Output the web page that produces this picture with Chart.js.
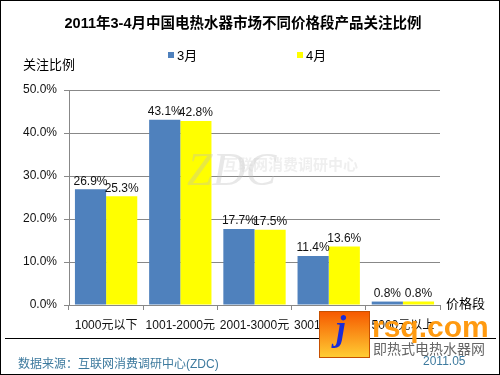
<!DOCTYPE html>
<html>
<head>
<meta charset="utf-8">
<script src="https://cdn.jsdelivr.net/npm/chart.js@4/dist/chart.umd.min.js"></script>
<style>
  body { margin: 0; background: #fff; }
  #wrap { position: relative; width: 500px; height: 375px; border: 1px solid #000; box-sizing: border-box; overflow: hidden; font-family: "Liberation Sans", Arial, "Noto Sans CJK SC", sans-serif; }
  #c { position: absolute; left: 0; top: 0; }
  .abs { position: absolute; white-space: nowrap; }
</style>
</head>
<body>
<div id="wrap">
  <canvas id="c" width="500" height="375"></canvas>
  <div class="abs" style="left:4px;top:337px;width:491px;height:1px;background:#000"></div>
  <div class="abs" style="left:17px;top:353px;font-size:12px;color:#3d7a9e">数据来源：互联网消费调研中心(ZDC)</div>
  <div class="abs" style="left:422px;top:353px;font-size:12px;color:#3d7a9e">2011.05</div>
  <!-- jrsq logo watermark -->
  <div class="abs" style="left:318px;top:310px;width:51px;height:47px;background:linear-gradient(#f65a00,#ffcc33);border:1px solid #c65000;box-sizing:border-box"></div>
  <div class="abs" style="left:335px;top:306px;font:italic bold 36px 'Liberation Serif',serif;color:#1a2bd8">j</div>
  <div class="abs" style="left:371px;top:309px;font:bold 30px 'Liberation Sans',Arial,sans-serif;color:#ff9a10">rsq.com</div>
  <div class="abs" style="left:372px;top:337px;font-size:14px;color:#666">即热式电热水器网</div>
</div>
<script>
let categories = ["1000元以下", "1001-2000元", "2001-3000元", "3001-5000元", "5000元以上"]
let march = [26.9, 43.1, 17.7, 11.4, 0.8]
let april = [25.3, 42.8, 17.5, 13.6, 0.8]
let seriesNames = ["3月", "4月"]
let yTicks = [0, 10, 20, 30, 40, 50]
let chartTitle = "2011年3-4月中国电热水器市场不同价格段产品关注比例"

const font = '"Liberation Sans", Arial, "Noto Sans CJK SC", sans-serif'

// values above bars
const valueLabels = {
    id: 'valueLabels',
    afterDatasetsDraw(chart) {
        const ctx = chart.ctx
        ctx.save()
        ctx.font = '12px ' + font
        ctx.fillStyle = '#111'
        ctx.textAlign = 'center'
        ctx.textBaseline = 'bottom'
        chart.data.datasets.forEach((ds, i) => {
            chart.getDatasetMeta(i).data.forEach((bar, j) => {
                ctx.fillText(ds.data[j].toFixed(1) + '%', bar.x, bar.y - 2)
            })
        })
        ctx.restore()
    }
}

// title, legend, axis captions, ZDC watermark
const extras = {
    id: 'extras',
    afterDraw(chart) {
        const ctx = chart.ctx
        const area = chart.chartArea
        ctx.save()
        ctx.textBaseline = 'middle'
        ctx.textAlign = 'center'
        ctx.fillStyle = '#000'
        ctx.font = 'bold 14.5px ' + font
        ctx.fillText(chartTitle, 242, 23)

        ctx.textAlign = 'left'
        let legendX = [167, 296]
        ctx.font = '13px ' + font
        chart.data.datasets.forEach((ds, i) => {
            ctx.fillStyle = ds.backgroundColor
            ctx.fillRect(legendX[i], 51, 6, 6)
            ctx.fillStyle = '#000'
            ctx.fillText(ds.label, legendX[i] + 9, 55)
        })
        ctx.fillText('关注比例', 22, 64)
        ctx.fillText('价格段', area.right + 6, area.bottom - 1)

        ctx.fillStyle = 'rgba(190,190,190,0.35)'
        ctx.font = 'italic 46px "Liberation Serif", serif'
        ctx.fillText('ZDC', 186, 172)
        ctx.fillStyle = 'rgba(215,215,215,0.4)'
        ctx.font = 'bold 15px "Noto Sans CJK SC", sans-serif'
        ctx.fillText('互联网消费调研中心', 222, 163)
        ctx.restore()
    }
}

new Chart(document.getElementById('c'), {
    type: 'bar',
    data: {
        labels: categories,
        datasets: [
            { label: seriesNames[0], data: march, backgroundColor: '#4f81bd' },
            { label: seriesNames[1], data: april, backgroundColor: '#ffff00' }
        ]
    },
    options: {
        responsive: false,
        animation: false,
        layout: { padding: { left: 0, right: 61, top: 89, bottom: 41 } },
        datasets: { bar: { categoryPercentage: 0.84, barPercentage: 1 } },
        plugins: {
            legend: { display: false },
            tooltip: { enabled: false },
            title: { display: false }
        },
        scales: {
            x: {
                afterFit(scale) { scale.height = 30 },
                grid: { drawOnChartArea: false, drawTicks: true, tickLength: 5, color: '#888', offset: true },
                border: { color: '#888' },
                ticks: { color: '#111', font: { family: font, size: 12 }, padding: 8, maxRotation: 0, autoSkip: false }
            },
            y: {
                min: 0,
                max: 50,
                afterFit(scale) { scale.width = 68 },
                afterBuildTicks(scale) { scale.ticks = yTicks.map(v => ({ value: v })) },
                grid: { color: '#888', tickLength: 5 },
                border: { color: '#888' },
                ticks: { color: '#111', font: { family: font, size: 12 }, padding: 7,
                    callback: v => v.toFixed(1) + '%' }
            }
        }
    },
    plugins: [valueLabels, extras]
})
</script>
</body>
</html>
